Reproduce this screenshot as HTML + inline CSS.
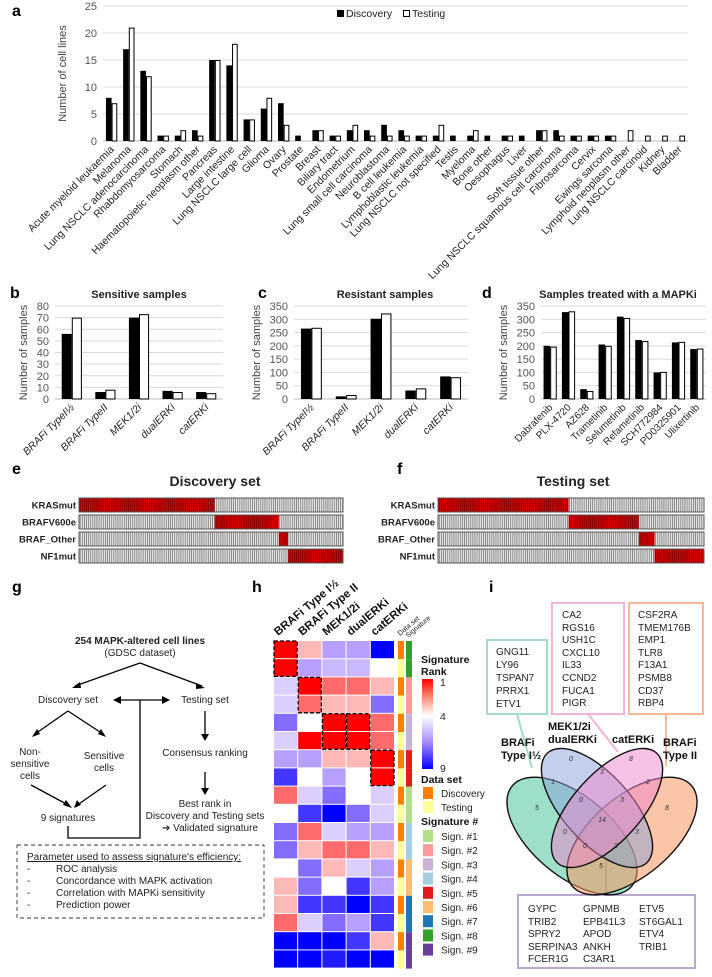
<!DOCTYPE html>
<html><head><meta charset="utf-8">
<style>
html,body{margin:0;padding:0;background:#fff;}
svg{display:block;font-family:"Liberation Sans",Arial,sans-serif;}
</style></head>
<body>
<svg id="fig" width="712" height="977" viewBox="0 0 712 977" xmlns="http://www.w3.org/2000/svg">
<defs>
<pattern id="stripeGray" width="2.1" height="20" patternUnits="userSpaceOnUse"><rect width="2.1" height="20" fill="#e4e4e4"/><rect width="0.7" height="20" fill="#6a6a6a"/></pattern>
<pattern id="stripeRed" width="2.1" height="20" patternUnits="userSpaceOnUse"><rect width="2.1" height="20" fill="#d40000"/><rect width="0.7" height="20" fill="#700000"/></pattern>
<linearGradient id="rankGrad" x1="0" y1="0" x2="0" y2="1">
<stop offset="0" stop-color="#ff0000"/><stop offset="0.2" stop-color="#ff8a70"/><stop offset="0.41" stop-color="#ffffff"/><stop offset="0.7" stop-color="#a88cff"/><stop offset="1" stop-color="#0000ff"/>
</linearGradient>
</defs>
<g id="panelA"></g>
<g id="panelB"></g>
<g id="panelC"></g>
<g id="panelD"></g>
<g id="panelE"></g>
<g id="panelF"></g>

<!-- panel letters -->
<g font-weight="bold" font-size="16" fill="#000">
<text x="12" y="16">a</text>
<text x="10" y="298">b</text>
<text x="258" y="298">c</text>
<text x="482" y="298">d</text>
<text x="12" y="474">e</text>
<text x="397" y="474">f</text>
<text x="12" y="592">g</text>
<text x="252" y="592">h</text>
<text x="489" y="592">i</text>
</g>

<!-- panel g flowchart -->
<g id="panelG" font-size="10" fill="#222" text-anchor="middle">
<text x="140" y="644" font-weight="bold">254 MAPK-altered cell lines</text>
<text x="140" y="656">(GDSC dataset)</text>
<g stroke="#000" stroke-width="1.3" fill="none">
<path d="M140 663 L75 686 M140 663 L202 686"/>
<path d="M68 711 L35 734 M68 711 L103 734"/>
<path d="M31 785 L70 806 M106 785 L76 806"/>
<path d="M205 711 L205 735 M205 772 L205 789"/>
<path d="M120 700 L163 700 M140 700 L140 838 L68 838 L68 826"/>
</g>
<g fill="#000">
<path d="M72 688 L80 682 L81 688 Z"/><path d="M205 688 L196 683 L196 689 Z"/>
<path d="M32 737 L37 729 L40 734 Z"/><path d="M106 737 L98 734 L101 729 Z"/>
<path d="M72 808 L63 805 L66 800 Z"/><path d="M74 808 L77 800 L81 805 Z"/>
<path d="M201 734 L209 734 L205 741 Z"/><path d="M201 788 L209 788 L205 795 Z"/>
<path d="M113 700 L121 696 L121 704 Z"/><path d="M170 700 L162 696 L162 704 Z"/>
</g>
<text x="68" y="703">Discovery set</text>
<text x="205" y="703">Testing set</text>
<text x="30" y="755">Non-</text>
<text x="30" y="767">sensitive</text>
<text x="30" y="779">cells</text>
<text x="104" y="759">Sensitive</text>
<text x="104" y="771">cells</text>
<text x="68" y="821">9 signatures</text>
<text x="205" y="756">Consensus ranking</text>
<text x="205" y="807">Best rank in</text>
<text x="205" y="819">Discovery and Testing sets</text>
<text x="210" y="831">➔ Validated signature</text>
<rect x="17" y="845" width="247" height="73" fill="none" stroke="#333" stroke-width="0.9" stroke-dasharray="4,3"/>
<g text-anchor="start">
<text x="27" y="860" text-decoration="underline">Parameter used to assess signature's efficiency:</text>
<text x="27" y="872">-<tspan x="56">ROC analysis</tspan></text>
<text x="27" y="884">-<tspan x="56">Concordance with MAPK activation</tspan></text>
<text x="27" y="896">-<tspan x="56">Correlation with MAPKi sensitivity</tspan></text>
<text x="27" y="908">-<tspan x="56">Prediction power</tspan></text>
</g>
</g>

<g id="panelH"></g>

<!-- panel i Venn -->
<g id="panelI" font-size="10" fill="#222">
<g fill="none" stroke-width="2">
<rect x="487" y="640" width="60" height="74" stroke="#9fdcc8"/>
<rect x="552" y="603" width="72" height="111" stroke="#f0b3d9"/>
<rect x="629" y="603" width="74" height="111" stroke="#f9b89a"/>
<rect x="518" y="895" width="177" height="73" stroke="#b9a8d3"/>
<path d="M517 714 L532 768" stroke="#9fdcc8"/>
<path d="M588 714 L618 752" stroke="#f0b3d9"/>
<path d="M666 714 L666 766" stroke="#f9b89a"/>
<path d="M606 895 L606 848" stroke="#b9a8d3"/>
</g>
<g>
<text x="496" y="655">GNG11</text><text x="496" y="668">LY96</text><text x="496" y="681">TSPAN7</text><text x="496" y="694">PRRX1</text><text x="496" y="707">ETV1</text>
<text x="562" y="618">CA2</text><text x="562" y="631">RGS16</text><text x="562" y="643">USH1C</text><text x="562" y="656">CXCL10</text><text x="562" y="668">IL33</text><text x="562" y="681">CCND2</text><text x="562" y="694">FUCA1</text><text x="562" y="706">PIGR</text>
<text x="638" y="618">CSF2RA</text><text x="638" y="631">TMEM176B</text><text x="638" y="643">EMP1</text><text x="638" y="656">TLR8</text><text x="638" y="668">F13A1</text><text x="638" y="681">PSMB8</text><text x="638" y="694">CD37</text><text x="638" y="706">RBP4</text>
<text x="528" y="912">GYPC</text><text x="528" y="925">TRIB2</text><text x="528" y="937">SPRY2</text><text x="528" y="950">SERPINA3</text><text x="528" y="962">FCER1G</text>
<text x="583" y="912">GPNMB</text><text x="583" y="925">EPB41L3</text><text x="583" y="937">APOD</text><text x="583" y="950">ANKH</text><text x="583" y="962">C3AR1</text>
<text x="639" y="912">ETV5</text><text x="639" y="925">ST6GAL1</text><text x="639" y="937">ETV4</text><text x="639" y="950">TRIB1</text>
</g>
<g stroke="#111" stroke-width="1.4">
<ellipse cx="572" cy="836" rx="78" ry="40" transform="rotate(40 572 836)" fill="#4cc49c" fill-opacity="0.55"/>
<ellipse cx="632" cy="836" rx="78" ry="40" transform="rotate(-40 632 836)" fill="#f7955f" fill-opacity="0.55"/>
<ellipse cx="597" cy="808" rx="74" ry="34" transform="rotate(48 597 808)" fill="#8aa2d8" fill-opacity="0.5"/>
<ellipse cx="607" cy="808" rx="74" ry="34" transform="rotate(-48 607 808)" fill="#ee86cc" fill-opacity="0.5"/>
</g>
<g font-size="7" font-style="italic" fill="#333" text-anchor="middle">
<text x="537" y="810">5</text><text x="571" y="761">0</text><text x="631" y="761">8</text><text x="667" y="810">8</text>
<text x="553" y="784">1</text><text x="602" y="774">3</text><text x="648" y="784">2</text>
<text x="581" y="802">0</text><text x="622" y="802">3</text><text x="602" y="822">14</text>
<text x="565" y="834">0</text><text x="637" y="834">3</text><text x="585" y="848">0</text><text x="616" y="848">3</text><text x="601" y="868">5</text>
</g>
<g font-weight="bold" font-size="11" fill="#111">
<text x="548" y="730">MEK1/2i</text>
<text x="548" y="743">dualERKi</text>
<text x="612" y="743">catERKi</text>
<text x="501" y="746">BRAFi</text>
<text x="501" y="759">Type I½</text>
<text x="663" y="746">BRAFi</text>
<text x="663" y="759">Type II</text>
</g>
</g>

<script>
// ---------- Panel a data ----------
const aCats=["Acute myeloid leukaemia","Melanoma","Lung NSCLC adenocarcinoma","Rhabdomyosarcoma","Stomach","Haematopoietic neoplasm other","Pancreas","Large intestine","Lung NSCLC large cell","Glioma","Ovary","Prostate","Breast","Biliary tract","Endometrium","Lung small cell carcinoma","Neuroblastoma","B cell leukemia","Lymphoblastic leukemia","Lung NSCLC not specified","Testis","Myeloma","Bone other","Oesophagus","Liver","Soft tissue other","Lung NSCLC squamous cell carcinoma","Fibrosarcoma","Cervix","Ewings sarcoma","Lymphoid neoplasm other","Lung NSCLC carcinoid","Kidney","Bladder"];
const aDisc=[8,17,13,1,1,2,15,14,4,6,7,1,2,1,2,2,3,2,1,1,1,1,1,1,1,2,2,1,1,1,0,0,0,0];
const aTest=[7,21,12,1,2,1,15,18,4,8,3,0,2,1,3,1,1,1,1,3,0,2,0,1,0,2,1,1,1,1,2,1,1,1];
const aTicks=[0,5,10,15,20,25];
// ---------- Panel b/c/d data ----------
const bCats=["BRAFi TypeI½","BRAFi TypeII","MEK1/2i","dualERKi","catERKi"];
const bDisc=[56,6,70,7,6];
const bTest=[70,8,73,6,5];
const bTicks=[0,10,20,30,40,50,60,70,80];
const cCats=["BRAFi TypeI½","BRAFi TypeII","MEK1/2i","dualERKi","catERKi"];
const cDisc=[265,10,302,32,85];
const cTest=[268,15,322,40,82];
const cTicks=[0,50,100,150,200,250,300,350];
const dCats=["Dabrafenib","PLX-4720","AZ628","Trametinib","Selumetinib","Refametinib","SCH772984","PD0325901","Ulixertinib"];
const dDisc=[200,327,37,205,310,222,100,213,188];
const dTest=[197,330,30,200,305,218,102,215,190];
const dTicks=[0,50,100,150,200,250,300,350];
// ---------- Panel e/f data (fraction of cell lines in each group) ----------
const eRows=["KRASmut","BRAFV600e","BRAF_Other","NF1mut"];
const eBounds=[0,0.514,0.757,0.792,1];
const fBounds=[0,0.491,0.755,0.814,1];
// ---------- Panel h data (ranks 1..9), rows: discovery/testing per signature ----------
const hCols=["BRAFi Type I½","BRAFi Type II","MEK1/2i","dualERKi","catERKi"];
const hSigOrder=[8,2,3,5,1,4,6,7,9];
const hRanks=[
[1,3,6,6,9],[1,6,5.5,5.5,4],
[5,1,2,2,3],[5,2,3,3,7],
[7,4,1,1,2],[5,1,1,1,2],
[6,6,3,3,1],[8,4,6,4,1],
[2,5,7,4,5],[4,8,9,7,5],
[7,2,5,6,6],[7,3,2,2,3],
[4,7,3,5,6],[3,7,4,8,6],
[3,8,8,9,8],[2,5,7,6,8],
[9,9,9,8,3],[9,9,8.5,9,9]];
const sigColors=["#b2df8a","#fb9a99","#cab2d6","#a6cee3","#e31a1c","#fdbf6f","#1f78b4","#33a02c","#6a3d9a"];

const NS="http://www.w3.org/2000/svg";
function mk(parent,tag,attrs,txt){const e=document.createElementNS(NS,tag);for(const k in attrs)e.setAttribute(k,attrs[k]);if(txt!==undefined)e.textContent=txt;parent.appendChild(e);return e;}

function barChart(g,cats,disc,test,ticks,o){
  const n=cats.length, cw=(o.x1-o.x0)/n, vmax=ticks[ticks.length-1];
  const xs=i=>o.x0+cw*(i+0.5);
  const ys=v=>o.y0-(o.y0-o.yTop)*v/vmax;
  ticks.forEach(t=>{
    if(t>0){const gl=mk(g,'line',{x1:o.x0,x2:o.x1,y1:ys(t),y2:ys(t),stroke:'#d9d9d9','stroke-width':1});
    
    }
    const tl=mk(g,'text',{x:o.x0-6,y:ys(t)+4,'text-anchor':'end','font-size':o.tfs,fill:'#555'},String(t));
    
    
  });
  const ax=mk(g,'line',{x1:o.x0,x2:o.x1,y1:o.y0,y2:o.y0,stroke:'#bbb','stroke-width':1});
  
  
  const bw=cw*o.bf;
  cats.forEach((c,i)=>{
    const cx=xs(i);
    const b1=mk(g,'rect',{x:cx-bw,y:ys(disc[i]),width:bw,height:o.y0-ys(disc[i]),fill:'#000'});
    
    
    const b2=mk(g,'rect',{x:cx+0.5,y:ys(test[i])+0.5,width:bw-1,height:Math.max(0,o.y0-ys(test[i])-0.5),fill:'#fff',stroke:'#000','stroke-width':1});
    
    
    const lx=cx+3, ly=o.y0+9;
    const lab=mk(g,'text',{x:lx,y:ly,'text-anchor':'end','font-size':o.lfs,fill:'#222','font-style':o.ital?'italic':'normal',transform:`rotate(-45 ${lx} ${ly})`},c);
    
    
  });
  const yt=mk(g,'text',{x:o.ytx,y:(o.y0+o.yTop)/2,'text-anchor':'middle','font-size':o.yfs,fill:'#444',transform:`rotate(-90 ${o.ytx} ${(o.y0+o.yTop)/2})`},o.ytitle);
  
  
  if(o.title){const tt=mk(g,'text',{x:o.tx,y:o.ty,'text-anchor':'middle','font-size':11,'font-weight':'bold',fill:'#222'},o.title);
  
  }
}

barChart(document.getElementById('panelA'),aCats,aDisc,aTest,aTicks,{x0:103,x1:688,y0:141,yTop:6,bf:0.33,tfs:11,lfs:10.5,ital:false,ytx:66,yfs:11,ytitle:'Number of cell lines'});
barChart(document.getElementById('panelB'),bCats,bDisc,bTest,bTicks,{x0:55,x1:223,y0:399,yTop:306,bf:0.3,tfs:11,lfs:10.5,ital:true,ytx:27,yfs:11,ytitle:'Number of samples',title:'Sensitive samples',tx:139,ty:298});
barChart(document.getElementById('panelC'),cCats,cDisc,cTest,cTicks,{x0:294,x1:468,y0:399,yTop:306,bf:0.3,tfs:11,lfs:10.5,ital:true,ytx:260,yfs:11,ytitle:'Number of samples',title:'Resistant samples',tx:385,ty:298});
barChart(document.getElementById('panelD'),dCats,dDisc,dTest,dTicks,{x0:541,x1:706,y0:399,yTop:306,bf:0.36,tfs:11,lfs:10,ital:false,ytx:507,yfs:11,ytitle:'Number of samples',title:'Samples treated with a MAPKi',tx:618,ty:298});

// legend a
(function(){const g=document.getElementById('panelA');
const s1=mk(g,'rect',{x:337,y:10,width:7,height:7,fill:'#000'});


const t1=mk(g,'text',{x:346,y:17,'font-size':10.5,fill:'#222'},'Discovery');


const s2=mk(g,'rect',{x:403.5,y:10.5,width:6,height:6,fill:'#fff',stroke:'#000'});


const t2=mk(g,'text',{x:412,y:17,'font-size':10.5,fill:'#222'},'Testing');


})();

// e/f
function mutPanel(g,bounds,x0,x1,title,tx){
  const tt=mk(g,'text',{x:tx,y:486,'text-anchor':'middle','font-size':14,'font-weight':'bold',fill:'#222'},title);
  
  
  eRows.forEach((r,i)=>{
    const y=498+i*17, h=14, w=x1-x0;
    const bg=mk(g,'rect',{x:x0,y:y,width:w,height:h,fill:'url(#stripeGray)'});
    
    
    const xa=x0+w*bounds[i], xb=x0+w*bounds[i+1];
    const red=mk(g,'rect',{x:xa,y:y,width:xb-xa,height:h,fill:'url(#stripeRed)'});
    
    
    mk(g,'rect',{x:x0,y:y,width:w,height:h,fill:'none',stroke:'#555','stroke-width':1});
    const lab=mk(g,'text',{x:x0-3,y:y+10.5,'text-anchor':'end','font-size':9.5,'font-weight':'bold',fill:'#222'},r);
    
    
  });
}
mutPanel(document.getElementById('panelE'),eBounds,79,343,'Discovery set',215);
mutPanel(document.getElementById('panelF'),fBounds,438,704,'Testing set',573);

// heatmap
function rankColor(r){
  const lerp=(a,b,t)=>a.map((v,k)=>Math.round(v+(b[k]-v)*t));
  let c;
  if(r<=4){const t=(r-1)/3;c=lerp([255,0,0],[255,255,255],Math.pow(t,0.8));}
  else if(r<=6.5){c=lerp([255,255,255],[165,135,255],(r-4)/2.5);}
  else{c=lerp([165,135,255],[0,0,255],(r-6.5)/2.5);}
  return `rgb(${c[0]},${c[1]},${c[2]})`;
}
(function(){
  const g=document.getElementById('panelH');
  const x0=274, cw=24.2, y0=641, rh=18.2;
  hCols.forEach((c,j)=>{
    const lx=x0+cw*j+4, ly=636;
    const t=mk(g,'text',{x:lx,y:ly,'font-size':11.5,'font-weight':'bold',fill:'#111',transform:`rotate(-40 ${lx} ${ly})`},c);
    
    
  });
  const d1=mk(g,'text',{x:400,y:636,'font-size':7,fill:'#222',transform:'rotate(-40 400 636)'},'Data set');
  
  
  const d2=mk(g,'text',{x:408,y:638,'font-size':7,fill:'#222',transform:'rotate(-40 408 638)'},'Signature');
  
  
  hRanks.forEach((row,i)=>{
    row.forEach((r,j)=>{
      const cell=mk(g,'rect',{x:x0+cw*j,y:y0+rh*i,width:cw-1,height:rh-1,fill:rankColor(r)});
      
      
    });
    const ds=mk(g,'rect',{x:398,y:y0+rh*i,width:6,height:rh,fill:i%2===0?'#ff8000':'#ffff99'});
    
    
    const sg=mk(g,'rect',{x:406,y:y0+rh*i,width:6,height:rh,fill:sigColors[hSigOrder[Math.floor(i/2)]-1]});
    
    
  });
  // dashed boxes on best ranks
  [[0,0],[1,1],[2,2],[2,3],[3,4]].forEach(p=>{
    const b=mk(g,'rect',{x:x0+cw*p[1],y:y0+rh*2*p[0],width:cw-1,height:rh*2-1,fill:'none',stroke:'#000','stroke-width':1.3,'stroke-dasharray':'4,2'});
    
    
  });
  // legend
  const lt=mk(g,'text',{x:421,y:663,'font-size':10.5,'font-weight':'bold',fill:'#111'},'Signature');
  
  
  mk(g,'text',{x:421,y:675,'font-size':10.5,'font-weight':'bold',fill:'#111'},'Rank');
  const cb=mk(g,'rect',{x:422,y:679,width:11,height:90,fill:'url(#rankGrad)'});
  
  
  [['1',686],['4',720],['9',772]].forEach(p=>{mk(g,'text',{x:440,y:p[1],'font-size':10.5,fill:'#222'},p[0]);});
  const dt=mk(g,'text',{x:421,y:783,'font-size':10.5,'font-weight':'bold',fill:'#111'},'Data set');
  
  
  mk(g,'rect',{x:423,y:787,width:10,height:12,fill:'#ff8000'});
  mk(g,'text',{x:441,y:797,'font-size':10,fill:'#222'},'Discovery');
  mk(g,'rect',{x:423,y:801,width:10,height:12,fill:'#ffff99'});
  mk(g,'text',{x:441,y:811,'font-size':10,fill:'#222'},'Testing');
  const st=mk(g,'text',{x:421,y:825,'font-size':10.5,'font-weight':'bold',fill:'#111'},'Signature #');
  
  
  sigColors.forEach((c,k)=>{
    const sw=mk(g,'rect',{x:423,y:830+k*14.2,width:10,height:12,fill:c});
    
    
    const tx=mk(g,'text',{x:441,y:840+k*14.2,'font-size':10,fill:'#222'},'Sign. #'+(k+1));
    
    
  });
})();
</script>
</svg>
</body></html>
